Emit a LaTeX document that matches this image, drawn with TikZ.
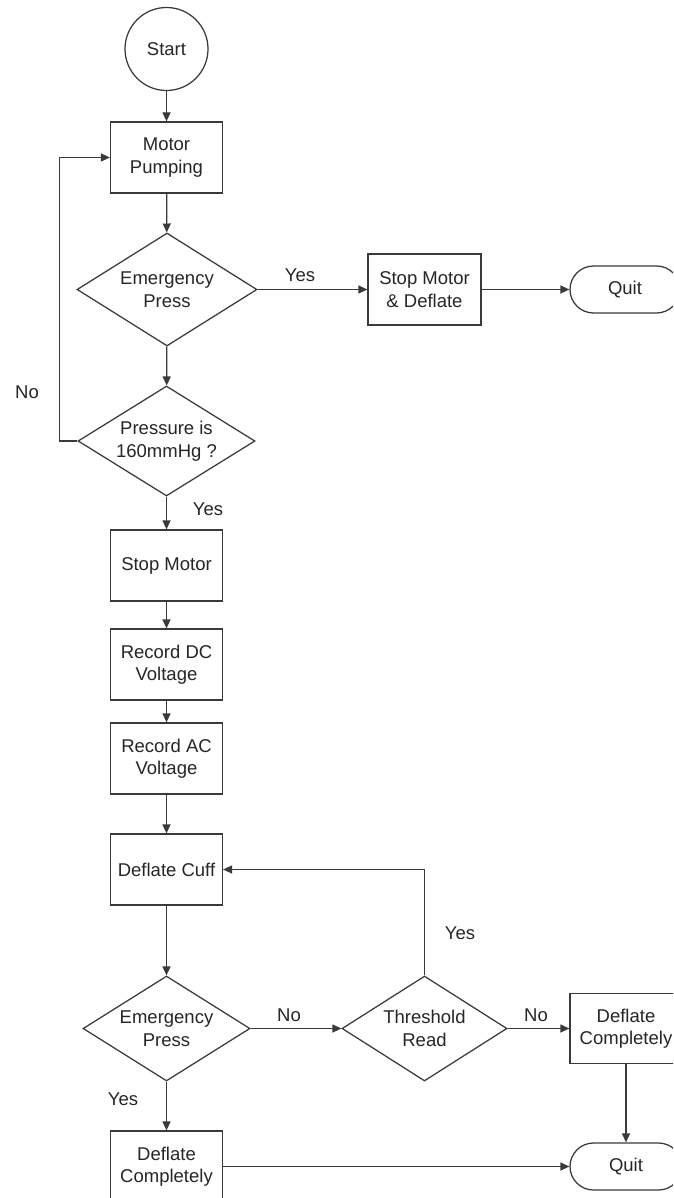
\documentclass[tikz,border=0pt]{standalone}
\usepackage{fontspec}
\setmainfont{Liberation Sans}
\usetikzlibrary{shapes.geometric,shapes.misc,arrows.meta}
\definecolor{ink}{HTML}{262626}
\definecolor{edge}{HTML}{3A3A3A}
\tikzset{
  base/.style={draw=edge, line width=1.25pt, text=ink, inner sep=0pt, align=center,
    font=\fontsize{18.5}{22.5}\selectfont},
  proc/.style={base, rectangle, minimum width=112pt, minimum height=71pt},
  decide/.style={base, diamond, aspect=1.6},
  term/.style={base, rounded rectangle, minimum width=112pt, minimum height=47pt},
  startnode/.style={base, circle, minimum size=83pt},
  flow/.style={draw=edge, line width=1.25pt, -{Triangle[length=9pt,width=8pt]}},
  lbl/.style={text=ink, font=\fontsize{18.5}{22.5}\selectfont, inner sep=0pt}
}
\begin{document}
\begin{tikzpicture}[x=1pt,y=-1pt]
\clip (0,0) rectangle (673,1198);
\fill[white] (0,0) rectangle (673,1198);

% upper column: start, pumping and the two checks
\node[startnode] (start) at (166.5,49) {Start};
\node[proc] (pump) at (166.5,157.5) {Motor\\Pumping};
\node[decide, minimum width=180pt, minimum height=113pt] (emg1) at (167,289.5) {Emergency\\Press};
\node[decide, minimum width=177pt, minimum height=110pt] (pres) at (166.5,441) {Pressure is\\160mmHg ?};

% emergency branch at the top
\node[proc, minimum width=113pt] (smd) at (424.5,289.5) {Stop Motor\\\& Deflate};
\node[term, minimum width=110pt] (quit1) at (625,289.5) {Quit};

% measurement steps
\node[proc] (stopm) at (166.5,565.5) {Stop Motor};
\node[proc] (recdc) at (166.5,664.5) {Record DC\\Voltage};
\node[proc] (recac) at (166.5,758.5) {Record AC\\Voltage};
\node[proc] (cuff) at (166.5,869.5) {Deflate Cuff};

% deflation loop
\node[decide, minimum width=167pt, minimum height=105pt] (emg2) at (166.5,1028.5) {Emergency\\Press};
\node[decide, minimum width=165pt, minimum height=105pt] (thr) at (424.5,1028.5) {Threshold\\Read};
\node[proc, minimum height=70pt] (dcr) at (626,1028.5) {Deflate\\Completely};
\node[term] (quit2) at (626,1166.5) {Quit};
\node[proc] (dcl) at (166.5,1166.5) {Deflate\\Completely};

% connectors
\draw[flow] (start) -- (pump);
\draw[flow] (pump) -- (emg1);
\draw[flow] (emg1) -- (pres);
\draw[flow] (pres.west) -- ++(-18,0) |- (pump.west);
\draw[flow] (emg1.east) -- (smd.west);
\draw[flow] (smd.east) -- (quit1.west);
\draw[flow] (pres) -- (stopm);
\draw[flow] (stopm) -- (recdc);
\draw[flow] (recdc) -- (recac);
\draw[flow] (recac) -- (cuff);
\draw[flow] (cuff) -- (emg2);
\draw[flow] (emg2.east) -- (thr.west);
\draw[flow] (thr.north) |- (cuff.east);
\draw[flow] (thr.east) -- (dcr.west);
\draw[flow] (dcr) -- (quit2);
\draw[flow] (emg2) -- (dcl);
\draw[flow] (dcl.east) -- (quit2.west);

% branch labels
\node[lbl] (lnoA) at (27,392) {No};
\node[lbl] (lyesA) at (300,275) {Yes};
\node[lbl] (lyesB) at (208,509) {Yes};
\node[lbl] (lyesC) at (460,933) {Yes};
\node[lbl] (lnoB) at (289,1015) {No};
\node[lbl] (lnoC) at (536,1015) {No};
\node[lbl] (lyesD) at (123,1099) {Yes};
\end{tikzpicture}
\end{document}
